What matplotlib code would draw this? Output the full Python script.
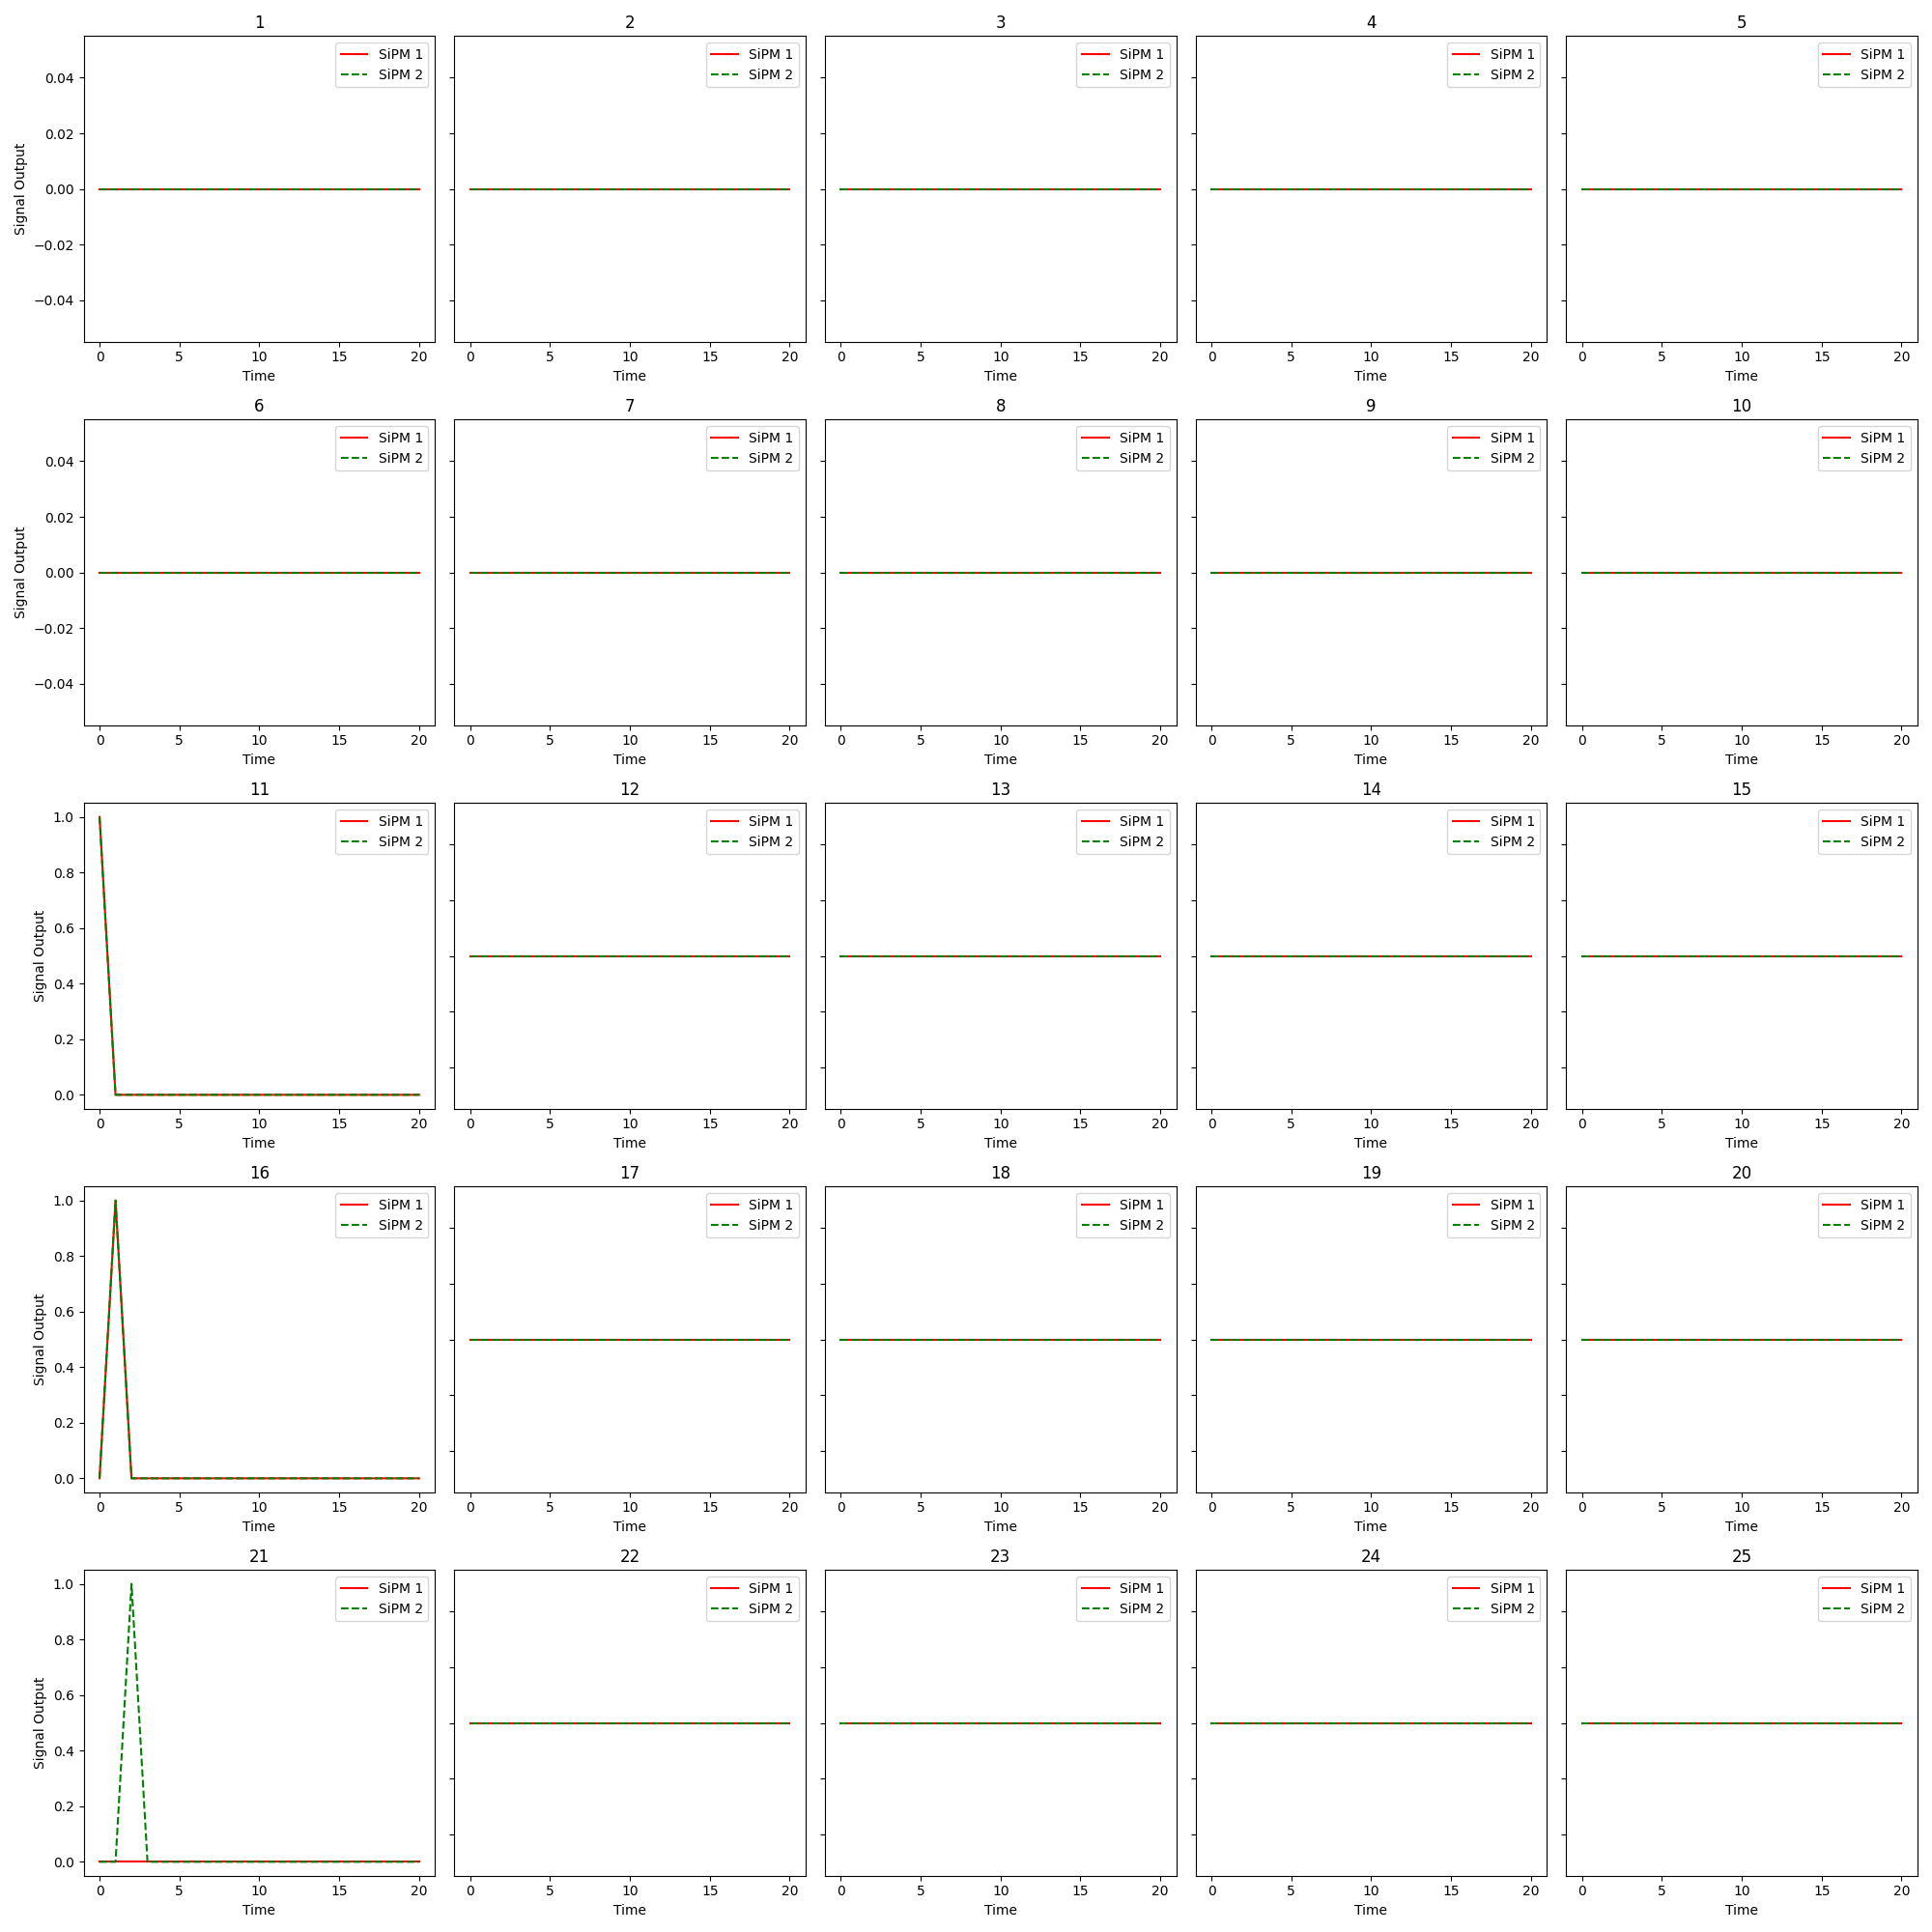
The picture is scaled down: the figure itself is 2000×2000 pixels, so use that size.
import numpy as np
from matplotlib import pyplot as plt

# time axis shared by every panel
time = list(range(21))

n_rows, n_cols = 5, 5

# signal values per panel (panel number -> list of 21 samples)
zeros = [0.0] * 21
halves = [0.5] * 21
pulse_t0 = [1.0] + [0.0] * 20
pulse_t1 = [0.0, 1.0] + [0.0] * 19
pulse_t2 = [0.0, 0.0, 1.0] + [0.0] * 18

sipm1 = {}
sipm2 = {}
for k in range(1, 26):
    if k <= 10:
        sipm1[k] = zeros
        sipm2[k] = zeros
    else:
        sipm1[k] = halves
        sipm2[k] = halves
sipm1[11] = pulse_t0
sipm2[11] = pulse_t0
sipm1[16] = pulse_t1
sipm2[16] = pulse_t1
sipm1[21] = zeros
sipm2[21] = pulse_t2

fig, axes = plt.subplots(n_rows, n_cols, figsize=(20, 20), dpi=100)

for i in range(n_rows):
    for j in range(n_cols):
        k = i * n_cols + j + 1
        ax = axes[i, j]
        ax.plot(time, sipm1[k], color='red', linestyle='-', label='SiPM 1')
        ax.plot(time, sipm2[k], color='green', linestyle='--', label='SiPM 2')
        ax.set_title(str(k))
        ax.set_xlabel("Time")
        if j == 0:
            ax.set_ylabel("Signal Output")
        else:
            ax.tick_params(labelleft=False)
        ax.legend(loc='upper right')

plt.tight_layout()
plt.savefig("out.png")
